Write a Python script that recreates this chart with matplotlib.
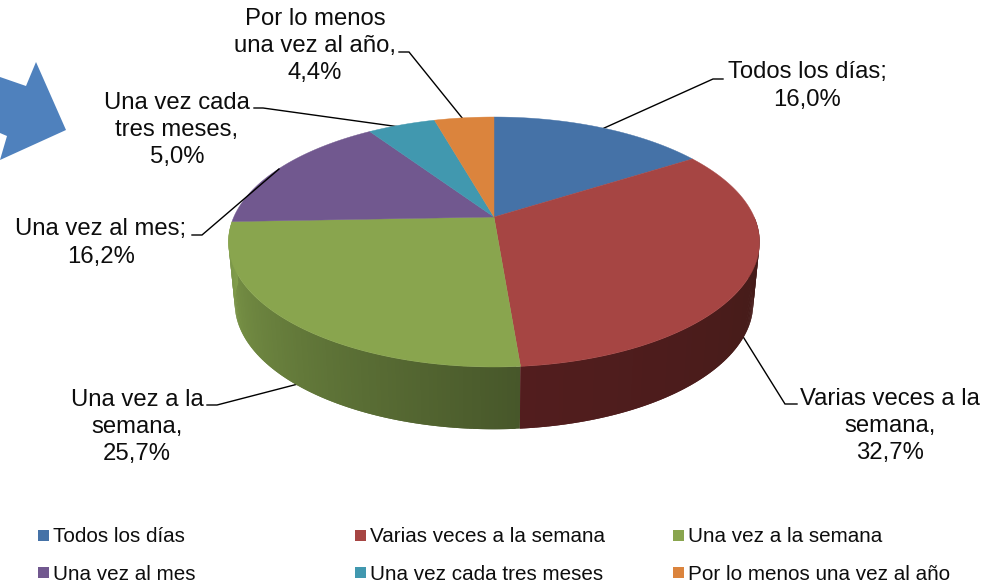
import numpy as np
import matplotlib
matplotlib.use('Agg')
import matplotlib.pyplot as plt
from matplotlib.colors import to_rgb

plt.rcParams['font.family'] = ['Liberation Sans', 'DejaVu Sans']

# data
categories = ['Todos los días', 'Varias veces a la semana', 'Una vez a la semana',
              'Una vez al mes', 'Una vez cada tres meses', 'Por lo menos una vez al año']
values = [16.0, 32.7, 25.7, 16.2, 5.0, 4.4]
colors = ['#4572A7', '#A64543', '#89A54E', '#71588F', '#4198AF', '#DB843D']

# labels as broken in the picture
label_lines = ['Todos los días;', 'Varias veces a la\nsemana,', 'Una vez a la\nsemana,',
               'Una vez al mes;', 'Una vez cada\ntres meses,', 'Por lo menos\nuna vez al año,']
label_pos = [(807, 86), (890, 426), (137, 427), (101, 243), (177, 130), (315, 46)]
leaders = [
    [(723, 79), (713, 79), (602, 129)],
    [(797, 404), (785, 404), (742, 335)],
    [(207, 405), (217, 405), (298, 384)],
    [(192, 235), (202, 235), (279, 169)],
    [(254, 108), (263, 108), (400, 127)],
    [(399, 52), (409, 52), (463, 119)],
]

# geometry of the tilted disc, in pixels
CX = 494
TILT = 0.2         # perspective strength
TOP_Y, TOP_A, TOP_B = 217, 120, 260.2
BOT_Y, BOT_A, BOT_B = 278, 121, 254

# wall shading: colour at the left or right end, colour near the front
WALL = {2: ('#83A04C', '#47572A'), 1: ('#421B18', '#521D1E')}


def project(theta, y0, a, b):
    # theta in degrees, clockwise from the top of the pie
    t = np.radians(theta)
    u, v = np.sin(t), np.cos(t)
    d = 1 + TILT * v
    return CX + b * u / d, y0 - a * v / d


fig = plt.figure(figsize=(9.97, 5.83), dpi=100)
ax = fig.add_axes([0, 0, 1, 1])
ax.set_xlim(0, 997)
ax.set_ylim(583, 0)
ax.axis('off')

# arrow cut by the left border
ax.fill([0, 26, 36, 66, 0, 7, 0], [77, 86, 62, 130, 160, 136, 133], color='#4F81BD', lw=0)

edges = np.concatenate([[0], np.cumsum(values)]) / sum(values) * 360

# leaders that run behind the pie
for i in [0, 1, 2, 4, 5]:
    xs, ys = zip(*leaders[i])
    ax.plot(xs, ys, color='black', lw=1, zorder=1, solid_joinstyle='miter')

# side wall, thin strips with a gradient, each one overlaps the next to hide seams
for i in WALL:
    c_side = np.array(to_rgb(WALL[i][0]))
    c_front = np.array(to_rgb(WALL[i][1]))
    start, stop = max(edges[i], 90), min(edges[i + 1], 270)
    steps = np.linspace(start, stop, 120)
    step = steps[1] - steps[0]
    for a0 in steps[:-1]:
        a1 = min(a0 + 2 * step, stop)
        th = np.linspace(a0, a1, 4)
        x0, y0 = project(th, TOP_Y, TOP_A, TOP_B)
        x1, y1 = project(th[::-1], BOT_Y, BOT_A, BOT_B)
        span = 270 - edges[2] if i == 2 else edges[2] - 90
        u = abs(a0 + step / 2 - edges[2]) / span
        col = c_front + (c_side - c_front) * min(u, 1)
        ax.fill(np.r_[x0, x1], np.r_[y0, y1], color=col, lw=0, zorder=2)

# top face
for i, col in enumerate(colors):
    th = np.linspace(edges[i], edges[i + 1], 120)
    x, y = project(th, TOP_Y, TOP_A, TOP_B)
    ax.fill(np.r_[CX, x], np.r_[TOP_Y, y], color=col, lw=0.3, zorder=3)

# this leader runs over the pie
xs, ys = zip(*leaders[3])
ax.plot(xs, ys, color='black', lw=1, zorder=4, solid_joinstyle='miter')

# data labels
for name, val, (lx, ly) in zip(label_lines, values, label_pos):
    txt = name + '\n' + f'{val:.1f}%'.replace('.', ',')
    ax.text(lx, ly, txt, ha='center', va='center', fontsize=17.2, color='#0d0d0d',
            linespacing=1.32, zorder=5)

# legend
leg_x = [38, 355, 673]
leg_y = [535.5, 572.5]
for i, (name, col) in enumerate(zip(categories, colors)):
    x0 = leg_x[i % 3]
    y0 = leg_y[i // 3]
    ax.fill([x0, x0 + 11, x0 + 11, x0], [y0 - 5.5, y0 - 5.5, y0 + 5.5, y0 + 5.5], color=col, lw=0)
    ax.text(x0 + 15, y0 - 0.5, name, ha='left', va='center_baseline', fontsize=14.9, color='#0d0d0d')

fig.savefig('out.png', dpi=100)
